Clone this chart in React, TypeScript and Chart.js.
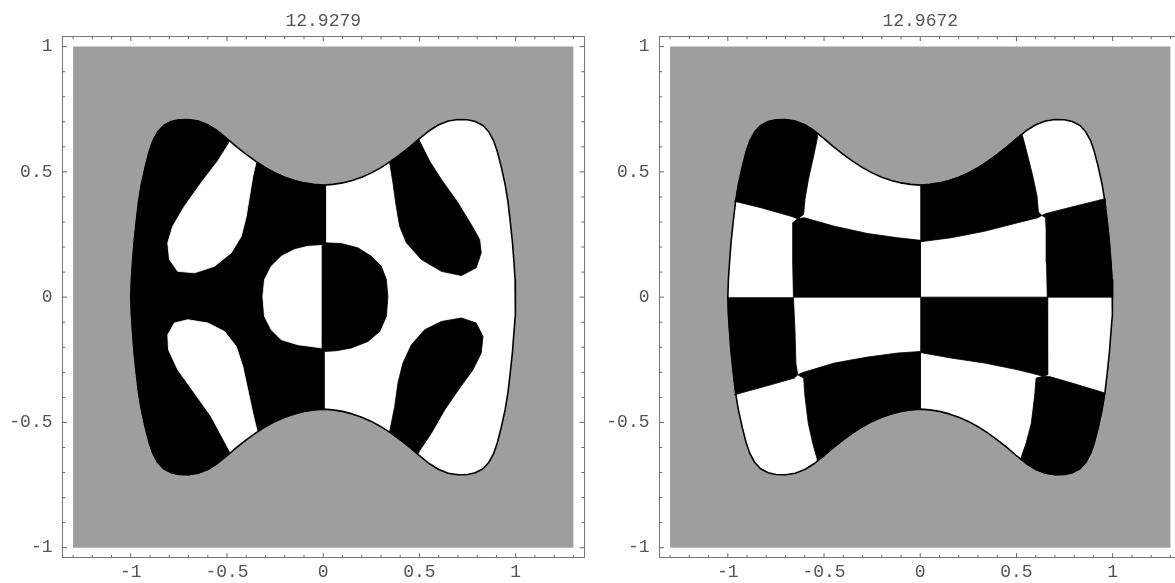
import React, { useEffect, useRef } from 'react';
import { Chart, registerables } from 'chart.js';

Chart.register(...registerables);

type P = [number, number];

const FONT = "'Liberation Mono', 'DejaVu Sans Mono', monospace";
const TEXT_COLOR = '#555';
const FRAME_COLOR = '#777';
const GRAY = '#9e9e9e';

const X_MIN = -1.355;
const X_MAX = 1.355;
const Y_MIN = -1.04;
const Y_MAX = 1.04;

const TITLES = ['12.9279', '12.9672'];
const X_LABELS = [-1, -0.5, 0, 0.5, 1];
const Y_LABELS = [-1, -0.5, 0, 0.5, 1];
const X_MINOR = [-1.3, -1.2, -1.1, -1, -0.9, -0.8, -0.7, -0.6, -0.5, -0.4, -0.3, -0.2, -0.1, 0, 0.1, 0.2, 0.3, 0.4, 0.5, 0.6, 0.7, 0.8, 0.9, 1, 1.1, 1.2, 1.3];
const Y_MINOR = [-1, -0.9, -0.8, -0.7, -0.6, -0.5, -0.4, -0.3, -0.2, -0.1, 0, 0.1, 0.2, 0.3, 0.4, 0.5, 0.6, 0.7, 0.8, 0.9, 1];

const GRAY_RECT: P[] = [[-1.3, -1], [1.3, -1], [1.3, 1], [-1.3, 1]];

// billiard boundary, clockwise from the top centre
const BOUNDARY: P[] = [
  [0, 0.447], [0.05, 0.45], [0.1, 0.456], [0.15, 0.466], [0.2, 0.479], [0.25, 0.496], [0.3, 0.517], [0.35, 0.542],
  [0.4, 0.57], [0.45, 0.6], [0.5, 0.633], [0.55, 0.664], [0.6, 0.688], [0.65, 0.703], [0.7, 0.709], [0.75, 0.708],
  [0.79, 0.701], [0.83, 0.685], [0.86, 0.66], [0.885, 0.625], [0.905, 0.58], [0.925, 0.52], [0.945, 0.45], [0.96, 0.38],
  [0.972, 0.3], [0.983, 0.22], [0.991, 0.14], [0.997, 0.07], [1.0, 0],
  [0.997, -0.07], [0.991, -0.14], [0.983, -0.22], [0.972, -0.3], [0.96, -0.38], [0.945, -0.45], [0.925, -0.52], [0.905, -0.58],
  [0.885, -0.625], [0.86, -0.66], [0.83, -0.685], [0.79, -0.701], [0.75, -0.708], [0.7, -0.709], [0.65, -0.703], [0.6, -0.688],
  [0.55, -0.664], [0.5, -0.633], [0.45, -0.6], [0.4, -0.57], [0.35, -0.542], [0.3, -0.517], [0.25, -0.496], [0.2, -0.479],
  [0.15, -0.466], [0.1, -0.456], [0.05, -0.45], [0, -0.447],
  [-0.05, -0.45], [-0.1, -0.456], [-0.15, -0.466], [-0.2, -0.479], [-0.25, -0.496], [-0.3, -0.517], [-0.35, -0.542], [-0.4, -0.57],
  [-0.45, -0.6], [-0.5, -0.633], [-0.55, -0.664], [-0.6, -0.688], [-0.65, -0.703], [-0.7, -0.709], [-0.75, -0.708], [-0.79, -0.701],
  [-0.83, -0.685], [-0.86, -0.66], [-0.885, -0.625], [-0.905, -0.58], [-0.925, -0.52], [-0.945, -0.45], [-0.96, -0.38], [-0.972, -0.3],
  [-0.983, -0.22], [-0.991, -0.14], [-0.997, -0.07], [-1.0, 0],
  [-0.997, 0.07], [-0.991, 0.14], [-0.983, 0.22], [-0.972, 0.3], [-0.96, 0.38], [-0.945, 0.45], [-0.925, 0.52], [-0.905, 0.58],
  [-0.885, 0.625], [-0.86, 0.66], [-0.83, 0.685], [-0.79, 0.701], [-0.75, 0.708], [-0.7, 0.709], [-0.65, 0.703], [-0.6, 0.688],
  [-0.55, 0.664], [-0.5, 0.633], [-0.45, 0.6], [-0.4, 0.57], [-0.35, 0.542], [-0.3, 0.517], [-0.25, 0.496], [-0.2, 0.479],
  [-0.15, 0.466], [-0.1, 0.456], [-0.05, 0.45],
];

// ---------- left plot (12.9279) nodal lines ----------
const L_CENTER: P[] = [[0.012, 0.447], [0.012, 0.215], [-0.006, 0.205], [-0.006, -0.205], [0.004, -0.22], [0.004, -0.447]];
const L_WHITE_UP: P[] = [
  [-0.348, 0.543], [-0.366, 0.483], [-0.383, 0.403], [-0.4, 0.323], [-0.426, 0.243], [-0.478, 0.177], [-0.565, 0.123],
  [-0.669, 0.097], [-0.756, 0.103], [-0.799, 0.15], [-0.808, 0.217], [-0.782, 0.283], [-0.721, 0.363], [-0.634, 0.457],
  [-0.548, 0.543], [-0.487, 0.617],
];
const L_WHITE_DOWN: P[] = [
  [-0.343, -0.537], [-0.366, -0.463], [-0.392, -0.37], [-0.418, -0.277], [-0.452, -0.197], [-0.513, -0.137], [-0.6, -0.103],
  [-0.704, -0.09], [-0.773, -0.103], [-0.808, -0.15], [-0.804, -0.21], [-0.756, -0.29], [-0.669, -0.383], [-0.582, -0.477],
  [-0.487, -0.613],
];
const L_WHITE_DISK: P[] = [
  [-0.004, 0.206], [-0.08, 0.203], [-0.149, 0.19], [-0.218, 0.163], [-0.27, 0.123], [-0.305, 0.07], [-0.314, 0.003],
  [-0.305, -0.077], [-0.27, -0.13], [-0.218, -0.17], [-0.132, -0.19], [-0.062, -0.197], [-0.007, -0.203],
];
const L_BLACK_UP: P[] = [
  [0.345, 0.537], [0.362, 0.457], [0.379, 0.363], [0.397, 0.283], [0.432, 0.217], [0.51, 0.15], [0.614, 0.103],
  [0.718, 0.086], [0.795, 0.117], [0.821, 0.177], [0.813, 0.23], [0.769, 0.29], [0.7, 0.377], [0.614, 0.47],
  [0.553, 0.543], [0.501, 0.623],
];
const L_BLACK_DOWN: P[] = [
  [0.345, -0.537], [0.371, -0.437], [0.388, -0.343], [0.414, -0.263], [0.458, -0.19], [0.527, -0.13], [0.614, -0.097],
  [0.718, -0.083], [0.795, -0.103], [0.83, -0.157], [0.821, -0.223], [0.778, -0.29], [0.709, -0.363], [0.631, -0.45],
  [0.562, -0.543], [0.501, -0.613],
];
const L_BLACK_DISK: P[] = [
  [0.007, 0.217], [0.094, 0.214], [0.18, 0.197], [0.25, 0.163], [0.302, 0.123], [0.328, 0.07], [0.336, 0.003],
  [0.328, -0.077], [0.293, -0.137], [0.232, -0.177], [0.146, -0.203], [0.068, -0.214], [0.003, -0.217],
  [-0.006, -0.205], [-0.006, 0.205],
];

// ---------- right plot (12.9672) nodal lines ----------
const R_T1: P[] = [[-0.533, 0.64], [-0.554, 0.563], [-0.581, 0.47], [-0.599, 0.39], [-0.606, 0.33], [-0.637, 0.313]];
const R_HL1: P[] = [[-0.966, 0.383], [-0.828, 0.357], [-0.672, 0.323], [-0.637, 0.313]];
const R_HML: P[] = [[-0.637, 0.313], [-0.602, 0.317], [-0.446, 0.283], [-0.273, 0.254], [-0.117, 0.237], [0, 0.227]];
const R_VM1: P[] = [[-0.637, 0.313], [-0.663, 0.297], [-0.663, 0.137], [-0.659, 0]];
const R_VM2: P[] = [[-0.659, 0], [-0.651, -0.13], [-0.646, -0.263], [-0.637, -0.31]];
const R_HL2: P[] = [[-0.637, -0.31], [-0.654, -0.323], [-0.81, -0.357], [-0.966, -0.39]];
const R_HML2: P[] = [[-0.637, -0.31], [-0.611, -0.301], [-0.446, -0.263], [-0.273, -0.239], [-0.117, -0.223], [0, -0.217]];
const R_VB1: P[] = [[-0.637, -0.31], [-0.606, -0.323], [-0.599, -0.397], [-0.582, -0.503], [-0.559, -0.583], [-0.536, -0.645]];
const R_T3: P[] = [[0.533, 0.64], [0.559, 0.563], [0.585, 0.483], [0.607, 0.403], [0.614, 0.34], [0.632, 0.326]];
const R_HMR: P[] = [[0, 0.221], [0.16, 0.237], [0.334, 0.263], [0.507, 0.297], [0.611, 0.317], [0.632, 0.326]];
const R_HR1: P[] = [[0.632, 0.326], [0.654, 0.334], [0.819, 0.366], [0.961, 0.393]];
const R_VM3: P[] = [[0.632, 0.326], [0.651, 0.317], [0.654, 0.27], [0.656, 0.137], [0.66, 0]];
const R_VM4: P[] = [[0.66, 0], [0.66, -0.13], [0.663, -0.263], [0.663, -0.31], [0.637, -0.317]];
const R_HMR2: P[] = [[0, -0.221], [0.16, -0.243], [0.334, -0.263], [0.507, -0.29], [0.611, -0.31], [0.637, -0.317]];
const R_HR2: P[] = [[0.637, -0.317], [0.672, -0.317], [0.819, -0.35], [0.961, -0.383]];
const R_VB3: P[] = [[0.637, -0.317], [0.602, -0.323], [0.594, -0.397], [0.577, -0.503], [0.55, -0.583], [0.524, -0.64]];

// ---------- helpers building polygons from the read arrays ----------
function project(p: P) {
  const n = BOUNDARY.length;
  let best = { i: 0, d: Infinity, pt: BOUNDARY[0] as P };
  for (let i = 0; i < n; i++) {
    const a = BOUNDARY[i];
    const b = BOUNDARY[(i + 1) % n];
    const dx = b[0] - a[0];
    const dy = b[1] - a[1];
    let t = ((p[0] - a[0]) * dx + (p[1] - a[1]) * dy) / (dx * dx + dy * dy);
    t = Math.max(0, Math.min(1, t));
    const x = a[0] + t * dx;
    const y = a[1] + t * dy;
    const d = (x - p[0]) ** 2 + (y - p[1]) ** 2;
    if (d < best.d) best = { i, d, pt: [x, y] };
  }
  return best;
}

function walk(p: P, q: P): P[] {
  const n = BOUNDARY.length;
  const a = project(p);
  const b = project(q);
  const cw = (b.i - a.i + n) % n;
  const out: P[] = [a.pt];
  if (cw <= n / 2) {
    for (let k = 1; k <= cw; k++) out.push(BOUNDARY[(a.i + k) % n]);
  } else {
    const ccw = n - cw;
    for (let k = 0; k < ccw; k++) out.push(BOUNDARY[(a.i - k + n) % n]);
  }
  out.push(b.pt);
  return out;
}

const rev = (a: P[]): P[] => [...a].reverse();
const last = (a: P[]): P => a[a.length - 1];
const blob = (line: P[]): P[] => [...line, ...walk(last(line), line[0])];

type Region = { pts: P[]; color: string };

const LEFT_REGIONS: Region[] = [
  { pts: [...walk([0.004, -0.447], [-1, 0]), ...walk([-1, 0], [0.012, 0.447]), ...L_CENTER], color: '#000' },
  { pts: blob(L_WHITE_UP), color: '#fff' },
  { pts: blob(L_WHITE_DOWN), color: '#fff' },
  { pts: L_WHITE_DISK, color: '#fff' },
  { pts: blob(L_BLACK_UP), color: '#000' },
  { pts: blob(L_BLACK_DOWN), color: '#000' },
  { pts: L_BLACK_DISK, color: '#000' },
];

const RIGHT_REGIONS: Region[] = [
  { pts: [...walk(R_T1[0], R_HL1[0]), ...R_HL1, ...rev(R_T1)], color: '#000' },
  { pts: [...walk([0, 0.447], R_T3[0]), ...R_T3, ...rev(R_HMR)], color: '#000' },
  { pts: [...R_HML, [0, 0], ...rev(R_VM1)], color: '#000' },
  { pts: [...R_HR1, ...walk(last(R_HR1), [1, 0]), ...rev(R_VM3)], color: '#000' },
  { pts: [...R_VM2, ...R_HL2, ...walk(last(R_HL2), [-1, 0])], color: '#000' },
  { pts: [[0, 0], ...R_VM4, ...rev(R_HMR2)], color: '#000' },
  { pts: [...R_HML2, ...walk([0, -0.447], last(R_VB1)), ...rev(R_VB1)], color: '#000' },
  { pts: [...R_HR2, ...walk(last(R_HR2), last(R_VB3)), ...rev(R_VB3)], color: '#000' },
];

const toXY = (pts: P[]) => pts.map(([x, y]) => ({ x, y }));

function polygon(pts: P[], color: string, edge: number) {
  return {
    data: toXY(pts),
    showLine: true,
    fill: 'shape',
    backgroundColor: color,
    borderColor: color,
    borderWidth: edge,
    borderJoinStyle: 'round',
    pointRadius: 0,
    tension: 0,
    clip: 0,
  };
}

function tickSet(data: { x: number; y: number }[], rotation: number, major: number[], axis: 'x' | 'y') {
  return {
    data,
    showLine: false,
    pointStyle: 'line',
    pointRotation: rotation,
    pointRadius: (c: any) => (major.includes(axis === 'x' ? c.raw.x : c.raw.y) ? 4.5 : 2.7),
    pointBorderColor: '#666',
    pointBackgroundColor: '#666',
    pointBorderWidth: 1,
    clip: 0,
  };
}

function buildConfig(title: string, regions: Region[]) {
  const layers: any[] = [
    polygon(GRAY_RECT, GRAY, 0),
    polygon(BOUNDARY, '#fff', 0),
    ...regions.map((r) => polygon(r.pts, r.color, 0.8)),
    {
      data: toXY([...BOUNDARY, BOUNDARY[0]]),
      showLine: true,
      fill: false,
      borderColor: '#000',
      borderWidth: 1.6,
      borderJoinStyle: 'round',
      pointRadius: 0,
      tension: 0,
    },
    tickSet(X_MINOR.map((x) => ({ x, y: Y_MIN })), 90, X_LABELS, 'x'),
    tickSet(X_MINOR.map((x) => ({ x, y: Y_MAX })), 90, X_LABELS, 'x'),
    tickSet(Y_MINOR.map((y) => ({ x: X_MIN, y })), 0, Y_LABELS, 'y'),
    tickSet(Y_MINOR.map((y) => ({ x: X_MAX, y })), 0, Y_LABELS, 'y'),
  ];
  const n = layers.length;
  const datasets = layers.map((d, i) => ({ ...d, order: n - i }));

  const font = { family: FONT, size: 18, weight: 'normal' as const };
  const frameAxis = (position: string, min: number, max: number) => ({
    type: 'linear',
    position,
    min,
    max,
    ticks: { display: false },
    grid: { drawOnChartArea: false, drawTicks: false },
    border: { display: true, color: FRAME_COLOR, width: 1 },
  });

  return {
    type: 'scatter',
    data: { datasets },
    options: {
      animation: false,
      responsive: false,
      maintainAspectRatio: false,
      devicePixelRatio: 1,
      events: [],
      layout: { padding: { left: 0, right: 16, top: 0, bottom: 0 } },
      plugins: {
        legend: { display: false },
        tooltip: { enabled: false },
        title: {
          display: true,
          text: title,
          fullSize: false,
          color: TEXT_COLOR,
          font,
          padding: { top: 10, bottom: 5 },
        },
      },
      scales: {
        x: {
          type: 'linear',
          position: 'bottom',
          min: X_MIN,
          max: X_MAX,
          afterBuildTicks: (s: any) => {
            s.ticks = X_LABELS.map((v) => ({ value: v }));
          },
          afterFit: (s: any) => {
            s.height = 25.3;
          },
          ticks: {
            callback: (v: any) => String(v),
            font,
            color: TEXT_COLOR,
            padding: 4,
            maxRotation: 0,
            autoSkip: false,
          },
          grid: { drawOnChartArea: false, drawTicks: false },
          border: { display: true, color: FRAME_COLOR, width: 1 },
        },
        y: {
          type: 'linear',
          position: 'left',
          min: Y_MIN,
          max: Y_MAX,
          afterBuildTicks: (s: any) => {
            s.ticks = Y_LABELS.map((v) => ({ value: v }));
          },
          afterFit: (s: any) => {
            s.width = 62.5;
          },
          ticks: {
            callback: (v: any) => String(v),
            font,
            color: TEXT_COLOR,
            padding: 10,
            autoSkip: false,
          },
          grid: { drawOnChartArea: false, drawTicks: false },
          border: { display: true, color: FRAME_COLOR, width: 1 },
        },
        x2: frameAxis('top', X_MIN, X_MAX),
        y2: frameAxis('right', Y_MIN, Y_MAX),
      },
    },
  };
}

export default function App() {
  const leftRef = useRef<HTMLCanvasElement | null>(null);
  const rightRef = useRef<HTMLCanvasElement | null>(null);

  useEffect(() => {
    const charts: Chart[] = [];
    if (leftRef.current) charts.push(new Chart(leftRef.current, buildConfig(TITLES[0], LEFT_REGIONS) as any));
    if (rightRef.current) charts.push(new Chart(rightRef.current, buildConfig(TITLES[1], RIGHT_REGIONS) as any));
    return () => charts.forEach((c) => c.destroy());
  }, []);

  const canvasStyle = (left: number): React.CSSProperties => ({
    position: 'absolute',
    left,
    top: 0,
    width: 600,
    height: 583,
  });

  return (
    <div
      style={{
        position: 'absolute',
        left: 0,
        top: 0,
        width: 1175,
        height: 583,
        overflow: 'hidden',
        background: '#fff',
      }}
    >
      <canvas ref={leftRef} width={600} height={583} style={canvasStyle(0)} />
      <canvas ref={rightRef} width={600} height={583} style={canvasStyle(597)} />
    </div>
  );
}
